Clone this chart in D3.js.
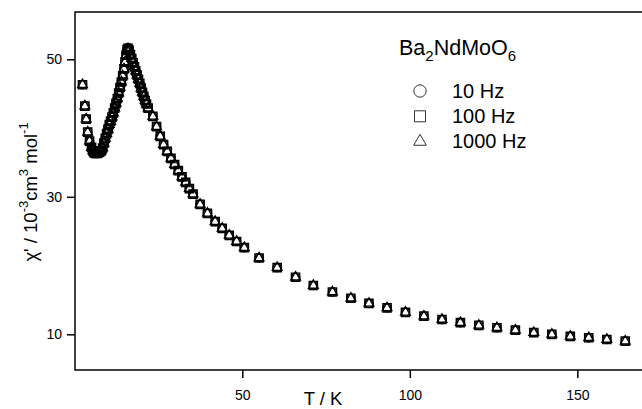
<!DOCTYPE html>
<html><head><meta charset="utf-8">
<script src="https://cdn.jsdelivr.net/npm/d3@7"></script>
<style>
html,body{margin:0;padding:0;background:#fff;}
svg{display:block;font-family:"Liberation Sans",Arial,Helvetica,sans-serif;}
</style></head>
<body>
<svg id="c" width="642" height="409"></svg>
<script>
// Temperature (K)
const temperature = [2.3,3.0,3.4,3.85,4.4,5.0,5.4,5.8,6.2,6.6,7.0,7.4,7.9,8.3,8.7,9.1,9.5,9.9,10.3,10.7,11.1,11.5,11.9,12.3,12.7,13.1,13.5,13.9,14.3,14.7,15.0,15.3,15.6,15.9,16.2,16.6,17.0,17.4,17.8,18.2,18.6,19.0,19.4,19.8,20.2,20.6,21.0,21.4,21.9,23.3,24.4,25.5,26.5,27.6,28.7,29.8,30.9,32.0,33.1,34.2,35.3,37.4,39.6,41.9,44.0,46.1,48.3,50.6,55.0,60.4,65.9,71.2,76.9,82.4,87.8,93.2,98.7,104.2,109.6,115.1,120.6,126.0,131.5,137.0,142.4,147.9,153.4,158.8,164.3];
// chi' (10^-3 cm^3 mol^-1) for each frequency
const chi10Hz = [46.3,43.2,41.3,39.4,38.1,37.2,36.7,36.4,36.3,36.3,36.4,36.5,36.7,37.1,37.8,38.5,39.2,39.8,40.5,41.0,41.6,42.2,42.9,43.6,44.3,45.1,45.9,46.7,47.6,48.6,49.6,50.6,51.4,51.7,51.3,50.7,50.1,49.5,48.9,48.3,47.7,47.1,46.5,45.8,45.2,44.6,44.0,43.5,42.9,41.7,40.2,38.8,37.6,36.6,35.6,34.7,33.8,32.9,32.1,31.2,30.4,28.9,27.6,26.4,25.4,24.4,23.5,22.6,21.1,19.7,18.3,17.1,16.15,15.25,14.5,13.85,13.2,12.65,12.15,11.7,11.3,10.95,10.6,10.25,10.0,9.7,9.5,9.25,9.0];
const chi100Hz = [46.3,43.2,41.3,39.4,38.1,37.2,36.7,36.4,36.3,36.3,36.4,36.5,36.7,37.1,37.8,38.5,39.2,39.8,40.5,41.0,41.6,42.2,42.9,43.6,44.3,45.1,45.9,46.7,47.6,48.6,49.6,50.6,51.4,51.6,51.3,50.7,50.1,49.5,48.9,48.3,47.7,47.1,46.5,45.8,45.2,44.6,44.0,43.5,42.9,41.7,40.2,38.8,37.6,36.6,35.6,34.7,33.8,32.9,32.1,31.2,30.4,28.9,27.6,26.4,25.4,24.4,23.5,22.6,21.1,19.7,18.3,17.1,16.15,15.25,14.5,13.85,13.2,12.65,12.15,11.7,11.3,10.95,10.6,10.25,10.0,9.7,9.5,9.25,9.0];
const chi1000Hz = [46.3,43.2,41.3,39.4,38.1,37.2,36.7,36.4,36.3,36.3,36.4,36.5,36.7,37.1,37.8,38.5,39.2,39.8,40.5,41.0,41.6,42.2,42.9,43.6,44.3,45.1,45.9,46.7,47.6,48.6,49.6,50.6,51.3,51.5,51.3,50.7,50.1,49.5,48.9,48.3,47.7,47.1,46.5,45.8,45.2,44.6,44.0,43.5,42.9,41.7,40.2,38.8,37.6,36.6,35.6,34.7,33.8,32.9,32.1,31.2,30.4,28.9,27.6,26.4,25.4,24.4,23.5,22.6,21.1,19.7,18.3,17.1,16.15,15.25,14.5,13.85,13.2,12.65,12.15,11.7,11.3,10.95,10.6,10.25,10.0,9.7,9.5,9.25,9.0];
const seriesLabels = ["10 Hz","100 Hz","1000 Hz"];
const xTickValues = [50,100,150];
const yTickValues = [10,30,50];

const svg = d3.select("#c");
const x = d3.scaleLinear().domain([0,169.3]).range([74.8,642]);
const y = d3.scaleLinear().domain([4.81,56.88]).range([370,12]);

// frame
svg.append("rect").attr("x",75).attr("y",12).attr("width",620).attr("height",358)
  .attr("fill","none").attr("stroke","#000").attr("stroke-width",1.5);

const xAxis = svg.append("g").attr("transform","translate(0,370)")
  .call(d3.axisBottom(x).tickValues(xTickValues).tickSize(8).tickPadding(12).tickFormat(d3.format("d")));
const yAxis = svg.append("g").attr("transform","translate(75,0)")
  .call(d3.axisLeft(y).tickValues(yTickValues).tickSize(8).tickPadding(5).tickFormat(d3.format("d")));
[xAxis,yAxis].forEach(a=>{
  a.select(".domain").remove();
  a.selectAll(".tick line").attr("stroke","#000").attr("stroke-width",1.5);
  a.selectAll("text").attr("font-size",14).attr("fill","#000").attr("font-family","Liberation Sans, Arial, sans-serif");
});

// axis titles
svg.append("text").attr("x",323).attr("y",405).attr("text-anchor","middle")
  .attr("font-size",18.5).text("T / K");

const yl = svg.append("text").attr("transform","translate(37,192) rotate(-90)")
  .attr("text-anchor","middle").attr("font-size",18.5);
yl.append("tspan").text("χ' / 10");
yl.append("tspan").attr("dy",-9).attr("font-size",13).text("-3");
yl.append("tspan").attr("dy",9).text("cm");
yl.append("tspan").attr("dy",-9).attr("font-size",13).text("3");
yl.append("tspan").attr("dy",9).text(" mol");
yl.append("tspan").attr("dy",-9).attr("font-size",13).text("-1");

// data markers
const symTypes = [d3.symbolCircle, d3.symbolSquare, d3.symbolTriangle];
const symSizes = [52, 68, 40];
const seriesValues = [chi10Hz, chi100Hz, chi1000Hz];
seriesValues.forEach((vals,si)=>{
  const g = svg.append("g");
  g.selectAll("path").data(temperature.map((t,i)=>[t,vals[i]])).enter().append("path")
    .attr("d", d3.symbol().type(symTypes[si]).size(symSizes[si]))
    .attr("transform", d=>`translate(${x(d[0])},${y(d[1])})`)
    .attr("fill","none").attr("stroke","#000").attr("stroke-width",1.4);
});

// legend
const title = svg.append("text").attr("x",399).attr("y",55).attr("font-size",21.5);
title.append("tspan").text("Ba");
title.append("tspan").attr("dy",6).attr("font-size",15).text("2");
title.append("tspan").attr("dy",-6).text("NdMoO");
title.append("tspan").attr("dy",6).attr("font-size",15).text("6");

const legSizes = [120, 121, 70];
seriesLabels.forEach((lab,i)=>{
  const cy = 91 + i*25.3;
  svg.append("path").attr("d", d3.symbol().type(symTypes[i]).size(legSizes[i]))
    .attr("transform",`translate(420,${cy})`)
    .attr("fill","none").attr("stroke","#333").attr("stroke-width",1);
  svg.append("text").attr("x",452).attr("y",cy+6.5).attr("font-size",20).text(lab);
});
</script>
</body></html>
